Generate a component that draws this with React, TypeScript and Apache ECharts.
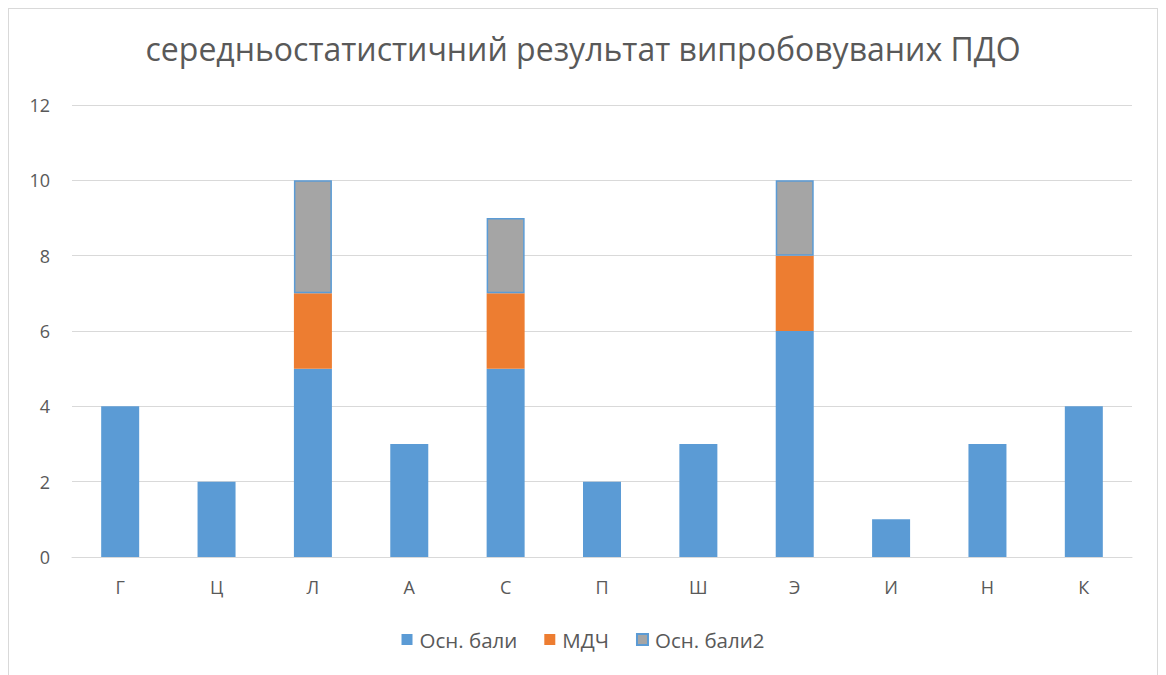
import React, { useEffect, useRef } from "react";
import * as echarts from "echarts";

const categories = ["Г", "Ц", "Л", "А", "С", "П", "Ш", "Э", "И", "Н", "К"];
const osnBali: (number | null)[] = [4, 2, 5, 3, 5, 2, 3, 6, 1, 3, 4];
const mdch: (number | null)[] = [null, null, 2, null, 2, null, null, 2, null, null, null];
const osnBali2: (number | null)[] = [null, null, 3, null, 2, null, null, 2, null, null, null];
const titleText = "середньостатистичний результат випробовуваних ПДО";

export default function App() {
  const ref = useRef<HTMLDivElement>(null);
  useEffect(() => {
    if (!ref.current) return;
    const chart = echarts.init(ref.current, undefined, { renderer: "svg" });
    const font = "'Open Sans', 'Noto Sans', sans-serif";
    chart.setOption({
      animation: false,
      textStyle: { fontFamily: font },
      title: {
        text: titleText,
        left: "center",
        top: 18,
        textStyle: { fontSize: 32, fontWeight: "normal", color: "#595959", fontFamily: font },
      },
      legend: {
        bottom: 32,
        left: "center",
        itemWidth: 11,
        itemHeight: 11,
        itemGap: 27,
        icon: "rect",
        textStyle: { fontSize: 20.5, color: "#595959", fontFamily: font, padding: [0, 0, 0, 2] },
        data: ["Осн. бали", "МДЧ", "Осн. бали2"],
      },
      grid: { left: 63, right: 25, top: 96, bottom: 130, containLabel: false },
      xAxis: {
        type: "category",
        data: categories,
        axisLine: { lineStyle: { color: "#d9d9d9", width: 1 } },
        axisTick: { show: false },
        axisLabel: { fontSize: 18, color: "#595959", margin: 21 },
      },
      yAxis: {
        type: "value",
        min: 0,
        max: 12,
        interval: 2,
        axisLine: { show: false },
        axisTick: { show: false },
        splitLine: { lineStyle: { color: "#d9d9d9", width: 1 } },
        axisLabel: { fontSize: 18, color: "#595959", margin: 22 },
      },
      series: [
        {
          name: "Осн. бали",
          type: "bar",
          stack: "s",
          data: osnBali,
          barWidth: 38,
          itemStyle: { color: "#5b9bd5" },
        },
        {
          name: "МДЧ",
          type: "bar",
          stack: "s",
          data: mdch,
          barWidth: 38,
          itemStyle: { color: "#ed7d31" },
        },
        {
          name: "Осн. бали2",
          type: "bar",
          stack: "s",
          data: osnBali2,
          barWidth: 38,
          itemStyle: { color: "#a5a5a5", borderColor: "#5b9bd5", borderWidth: 1.5 },
        },
      ],
    });
    return () => chart.dispose();
  }, []);
  return (
    <div
      ref={ref}
      style={{
        width: 1150,
        height: 680,
        border: "1px solid #d9d9d9",
        boxSizing: "border-box",
        background: "#fff",
      }}
    />
  );
}
